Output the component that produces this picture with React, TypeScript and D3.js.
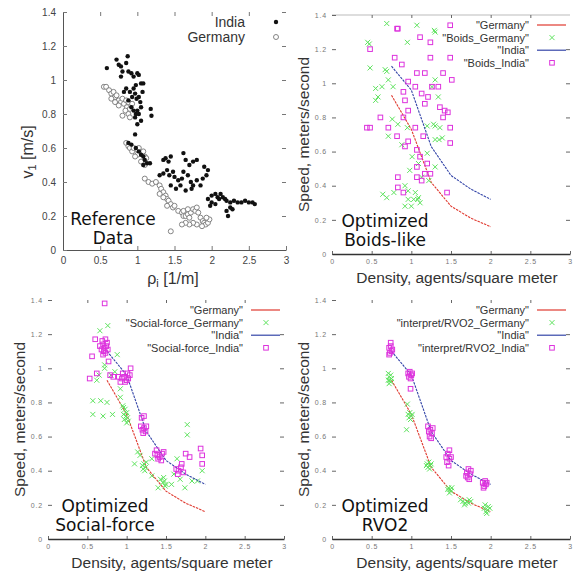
import React, { useRef, useEffect } from 'react'
import * as d3 from 'd3'

type Pt = [number, number]

const xTicks = [0, 0.5, 1, 1.5, 2, 2.5, 3]
const yTicks = [0, 0.2, 0.4, 0.6, 0.8, 1, 1.2, 1.4]

// reference measurements (density, speed)
const refIndia: Pt[] = [
  [0.59, 1.07], [0.72, 1.12], [0.75, 1.09], [0.78, 1.08], [0.8, 1.05], [0.78, 1.02], [0.87, 1.14], [0.85, 1.1],
  [0.88, 1.05], [0.92, 1.04], [0.95, 1.02], [1.0, 1.04], [1.02, 1.03], [1.05, 0.98], [1.08, 0.98], [1.07, 0.93],
  [0.98, 0.97], [0.95, 0.95], [0.9, 0.93], [0.93, 0.9], [0.97, 0.92], [0.99, 0.89], [1.02, 0.9], [1.04, 0.87],
  [0.82, 0.93], [0.85, 0.95], [0.88, 0.88], [0.92, 0.84], [0.95, 0.82], [0.98, 0.8], [1.0, 0.82], [1.02, 0.8],
  [1.05, 0.84], [0.97, 0.78], [1.18, 0.83], [1.19, 0.79], [1.05, 0.76], [1.0, 0.74], [0.97, 0.68],
  [0.88, 0.63], [0.92, 0.62], [0.98, 0.6], [1.02, 0.58], [1.05, 0.56], [1.08, 0.55], [1.1, 0.53], [1.13, 0.51],
  [1.17, 0.51], [1.08, 0.5],
  [1.35, 0.53], [1.38, 0.54], [1.42, 0.52], [1.45, 0.55], [1.4, 0.47], [1.35, 0.45], [1.3, 0.44], [1.43, 0.44],
  [1.48, 0.46], [1.5, 0.43], [1.55, 0.41], [1.6, 0.42], [1.62, 0.57], [1.65, 0.53], [1.7, 0.5], [1.75, 0.52],
  [1.8, 0.53], [1.62, 0.46], [1.68, 0.44], [1.72, 0.4], [1.75, 0.38], [1.8, 0.41], [1.85, 0.38], [1.58, 0.38],
  [1.65, 0.35], [1.73, 0.36], [1.9, 0.49], [1.93, 0.44], [1.95, 0.47], [1.88, 0.42], [1.52, 0.36], [1.45, 0.38],
  [1.95, 0.3], [2.0, 0.32], [2.05, 0.33], [2.08, 0.31], [2.1, 0.3], [2.12, 0.33], [2.15, 0.31], [2.18, 0.3],
  [2.2, 0.29], [2.25, 0.28], [2.3, 0.29], [2.35, 0.28], [2.4, 0.28], [2.45, 0.29], [2.5, 0.28], [2.55, 0.28],
  [2.58, 0.27], [2.0, 0.28], [1.98, 0.26], [2.2, 0.23], [2.22, 0.2], [2.25, 0.25], [2.28, 0.24], [2.05, 0.27],
]
const refGermany: Pt[] = [
  [0.55, 0.96], [0.58, 0.96], [0.62, 0.94], [0.65, 0.92], [0.68, 0.93], [0.7, 0.9], [0.72, 0.91], [0.75, 0.88],
  [0.78, 0.87], [0.8, 0.89], [0.82, 0.86], [0.85, 0.88], [0.88, 0.87], [0.86, 0.84], [0.84, 0.82], [0.88, 0.8],
  [0.9, 0.83], [0.75, 0.85], [0.7, 0.87], [0.8, 0.79], [0.9, 0.78], [0.65, 0.89], [0.93, 0.86],
  [0.85, 0.63], [0.88, 0.61], [0.9, 0.6], [0.93, 0.58], [0.95, 0.6], [1.0, 0.59], [1.02, 0.6], [1.05, 0.57],
  [1.08, 0.58], [1.1, 0.55], [1.12, 0.54], [1.0, 0.56], [0.97, 0.55], [1.05, 0.52], [1.1, 0.5],
  [1.1, 0.42], [1.15, 0.4], [1.2, 0.39], [1.25, 0.4], [1.3, 0.38], [1.32, 0.36], [1.35, 0.34], [1.38, 0.32],
  [1.4, 0.3], [1.42, 0.29], [1.35, 0.31], [1.3, 0.33], [1.45, 0.27], [1.4, 0.26], [1.48, 0.25], [1.5, 0.26],
  [1.45, 0.11],
  [1.55, 0.23], [1.6, 0.22], [1.62, 0.2], [1.65, 0.2], [1.68, 0.21], [1.7, 0.19], [1.72, 0.22], [1.75, 0.24],
  [1.78, 0.23], [1.8, 0.25], [1.82, 0.22], [1.85, 0.19], [1.88, 0.17], [1.9, 0.16], [1.92, 0.15], [1.95, 0.16],
  [1.97, 0.18], [1.93, 0.19], [1.87, 0.14], [1.8, 0.15], [1.75, 0.16], [1.7, 0.15], [1.65, 0.16], [1.6, 0.15],
  [1.62, 0.23], [1.68, 0.24],
]

// fitted curves drawn in the three model panels
const modelDensity = [0.75, 1.0, 1.25, 1.5, 1.75, 2.0]
const modelGermany = [0.93, 0.73, 0.42, 0.28, 0.21, 0.16]
const modelIndia = [1.1, 0.96, 0.63, 0.46, 0.38, 0.32]

const boidsGermany: Pt[] = [
  [0.69, 1.35], [0.95, 1.24], [1.07, 1.34], [1.3, 1.3], [0.45, 1.24], [0.48, 1.09], [0.69, 1.07], [0.71, 1.02],
  [0.63, 0.98], [0.58, 0.92], [0.77, 0.98], [1.26, 0.98], [1.3, 1.02], [1.34, 0.92], [0.76, 0.79], [0.83, 0.76],
  [0.95, 0.74], [1.3, 0.75], [1.36, 0.74], [1.28, 0.76], [1.39, 0.68], [0.71, 0.69], [0.88, 0.64], [1.01, 0.57],
  [1.09, 0.53], [1.2, 0.59], [1.3, 0.51], [0.98, 0.49], [1.13, 0.45], [1.22, 0.43], [0.92, 0.4], [0.96, 0.37],
  [1.05, 0.36], [1.09, 0.33], [0.96, 0.32], [0.78, 0.36], [0.64, 0.35], [1.11, 0.3], [0.92, 0.28], [1.3, 0.67],
  [0.47, 1.23], [0.55, 0.97], [0.55, 0.9], [0.67, 1.08], [1.0, 0.28], [1.03, 0.32], [1.08, 0.32], [0.69, 0.33],
  [1.35, 0.67], [1.2, 0.75], [1.29, 1.31],
]
const boidsIndia: Pt[] = [
  [0.83, 1.32], [1.11, 1.27], [1.24, 1.24], [1.49, 1.34], [1.49, 1.15], [1.24, 1.15], [0.79, 1.15], [0.48, 1.2],
  [0.88, 1.11], [1.07, 1.06], [1.17, 1.06], [1.4, 1.06], [1.51, 1.02], [0.96, 1.01], [1.05, 0.98], [1.26, 0.98],
  [1.34, 0.98], [0.9, 0.95], [1.13, 0.94], [1.21, 0.92], [0.92, 0.9], [1.17, 0.88], [1.36, 0.86], [1.42, 0.84],
  [1.46, 0.83], [1.4, 0.8], [0.96, 0.84], [0.9, 0.8], [0.61, 0.8], [0.48, 0.74], [0.71, 0.74], [0.82, 0.69],
  [1.05, 0.74], [1.15, 0.69], [1.49, 0.74], [1.49, 0.65], [0.96, 0.66], [0.92, 0.63], [1.07, 0.61], [1.11, 0.57],
  [1.2, 0.53], [1.07, 0.51], [1.17, 0.47], [1.24, 0.47], [1.07, 0.45], [0.83, 0.45], [1.13, 0.43], [0.83, 0.39],
  [0.9, 0.36], [0.44, 0.74], [0.82, 1.32], [1.45, 0.36],
]

const sfGermany: Pt[] = [
  [0.76, 1.25], [0.66, 1.22], [0.88, 1.08], [0.72, 1.0], [0.62, 0.93], [0.57, 0.81], [0.67, 0.81], [0.75, 0.8],
  [0.57, 0.73], [0.7, 0.72], [0.82, 0.73], [0.92, 0.83], [0.96, 0.77], [0.92, 0.88], [0.85, 0.98], [0.8, 0.96],
  [0.65, 0.96], [0.72, 1.02],
  [0.97, 0.7], [0.99, 0.72], [1.01, 0.71], [1.0, 0.74], [0.98, 0.76], [1.02, 0.69], [0.96, 0.73], [1.0, 0.68], [0.95, 0.78],
  [1.2, 0.43], [1.22, 0.44], [1.24, 0.42], [1.23, 0.4], [1.21, 0.41], [1.25, 0.45], [1.14, 0.51], [1.17, 0.49],
  [1.1, 0.44], [1.32, 0.47],
  [1.43, 0.35], [1.46, 0.33], [1.48, 0.34], [1.5, 0.32], [1.47, 0.36], [1.49, 0.31], [1.4, 0.3], [1.32, 0.37], [1.57, 0.32],
  [1.77, 0.61], [1.77, 0.67], [1.64, 0.47], [1.68, 0.35], [1.74, 0.3], [1.83, 0.34], [1.9, 0.34], [1.96, 0.4], [1.6, 0.38],
]
const sfIndia: Pt[] = [
  [0.66, 1.13], [0.68, 1.11], [0.7, 1.14], [0.72, 1.12], [0.74, 1.13], [0.71, 1.1], [0.73, 1.09], [0.75, 1.15],
  [0.69, 1.16], [0.76, 1.11], [0.7, 1.08], [0.73, 1.17],
  [0.72, 1.38], [0.6, 1.17], [0.56, 1.07], [0.62, 0.97], [0.79, 0.96], [0.53, 0.94], [0.77, 1.04], [0.83, 0.95],
  [0.9, 0.95], [0.94, 0.94], [0.97, 0.95], [1.0, 0.93], [1.02, 0.94], [1.04, 0.96], [0.98, 0.92], [1.01, 0.97],
  [0.95, 0.97], [1.05, 1.0], [0.92, 0.92],
  [1.18, 0.66], [1.2, 0.64], [1.22, 0.65], [1.24, 0.63], [1.19, 0.71], [1.22, 0.72], [1.25, 0.66], [1.21, 0.62],
  [1.36, 0.5], [1.39, 0.49], [1.42, 0.48], [1.45, 0.5], [1.4, 0.47], [1.44, 0.46], [1.47, 0.51], [1.38, 0.52],
  [1.63, 0.41], [1.66, 0.4], [1.69, 0.42], [1.72, 0.39], [1.65, 0.38], [1.7, 0.44], [1.8, 0.48], [1.96, 0.49],
  [1.96, 0.44], [1.94, 0.53], [1.75, 0.5],
]

const rvoGermany: Pt[] = [
  [0.71, 0.97], [0.72, 0.95], [0.74, 0.96], [0.73, 0.93], [0.72, 0.91], [0.75, 0.94], [0.74, 0.92], [0.71, 0.93],
  [0.96, 0.73], [0.98, 0.74], [1.0, 0.72], [0.99, 0.7], [0.97, 0.71], [1.01, 0.73], [0.95, 0.79], [0.94, 0.64],
  [1.2, 0.44], [1.22, 0.45], [1.24, 0.43], [1.21, 0.42], [1.23, 0.41], [1.25, 0.44], [1.19, 0.43],
  [1.47, 0.3], [1.49, 0.29], [1.5, 0.28], [1.48, 0.27], [1.46, 0.29], [1.51, 0.3],
  [1.62, 0.23], [1.65, 0.22], [1.68, 0.21], [1.7, 0.22], [1.72, 0.21], [1.75, 0.22], [1.67, 0.2], [1.73, 0.23],
  [1.92, 0.18], [1.94, 0.16], [1.96, 0.17], [1.97, 0.19], [1.95, 0.15], [1.99, 0.18], [1.93, 0.2],
]
const rvoIndia: Pt[] = [
  [0.72, 1.12], [0.74, 1.13], [0.75, 1.1], [0.73, 1.09], [0.76, 1.11], [0.72, 1.08], [0.74, 1.15],
  [0.96, 0.97], [0.98, 0.98], [1.0, 0.96], [0.97, 0.95], [0.99, 0.94], [1.01, 0.97], [0.99, 0.88],
  [1.22, 0.63], [1.24, 0.64], [1.26, 0.62], [1.23, 0.6], [1.25, 0.59], [1.27, 0.65], [1.21, 0.66],
  [1.44, 0.48], [1.46, 0.5], [1.48, 0.47], [1.45, 0.45], [1.47, 0.43], [1.5, 0.48], [1.48, 0.52],
  [1.7, 0.39], [1.72, 0.41], [1.74, 0.38], [1.71, 0.36], [1.73, 0.35], [1.69, 0.37], [1.75, 0.4],
  [1.9, 0.33], [1.92, 0.31], [1.94, 0.32], [1.91, 0.3], [1.93, 0.34], [1.95, 0.33],
]

const boidsLegend = ['"Germany"', '"Boids_Germany"', '"India"', '"Boids_India"']
const sfLegend = ['"Germany"', '"Social-force_Germany"', '"India"', '"Social-force_India"']
const rvoLegend = ['"Germany"', '"interpret/RVO2_Germany"', '"India"', '"interpret/RVO2_India"']

const SANS = 'Liberation Sans, Arial, sans-serif'
const DEJAVU = 'DejaVu Sans, sans-serif'
const RED = '#e03a30'
const BLUE = '#3445a8'
const GREEN = '#5ee35e'
const MAGENTA = '#dd33dd'

const App = () => {
  const ref = useRef<SVGSVGElement>(null)
  useEffect(() => {
    const svg = d3.select(ref.current)
    svg.selectAll('*').remove()
    svg.append('rect').attr('width', 574).attr('height', 572).attr('fill', 'white')

    const scales = (x0: number, x1: number, y0: number, y1: number) => ({
      x: d3.scaleLinear().domain([0, 3]).range([x0, x1]),
      y: d3.scaleLinear().domain([0, 1.4]).range([y1, y0]),
    })

    const bigLabel = (lines: string[], cx: number, y: number) => {
      lines.forEach((t, i) => {
        svg.append('text').attr('x', cx).attr('y', y + i * 18.5)
          .attr('text-anchor', 'middle').attr('font-family', DEJAVU)
          .attr('font-size', 17).attr('fill', '#111').text(t)
      })
    }

    // ---------- panel 1: reference data ----------
    {
      const { x, y } = scales(63, 286, 12, 250)
      const g = svg.append('g')
      const fmt = d3.format('')
      const xa = g.append('g').attr('transform', `translate(0,${y(0)})`)
        .call(d3.axisBottom(x).tickValues(xTicks).tickSize(-4).tickSizeOuter(0).tickPadding(7).tickFormat(d => fmt(d as number)))
      const ya = g.append('g').attr('transform', `translate(${x(0)},0)`)
        .call(d3.axisLeft(y).tickValues(yTicks).tickSize(-4).tickSizeOuter(0).tickPadding(7).tickFormat(d => fmt(d as number)))
      g.append('g').attr('transform', `translate(${x(3)},0)`)
        .call(d3.axisRight(y).tickValues(yTicks.slice(1)).tickSize(-4).tickSizeOuter(0).tickFormat(() => ''))
        .select('.domain').remove()
      g.append('g').attr('transform', `translate(0,${y(1.4)})`)
        .call(d3.axisTop(x).tickValues(xTicks.slice(1, -1)).tickSize(-4).tickSizeOuter(0).tickFormat(() => ''))
        .select('.domain').remove()
      ;[xa, ya].forEach(a => {
        a.attr('font-family', SANS).attr('font-size', 10)
        a.selectAll('text').attr('fill', '#444')
        a.select('.domain').attr('stroke', '#555')
      })
      g.selectAll('.tick line').attr('stroke', '#777')

      g.selectAll('.gm').data(refGermany).join('circle')
        .attr('cx', d => x(d[0])).attr('cy', d => y(d[1])).attr('r', 2.5)
        .attr('fill', 'white').attr('stroke', '#777').attr('stroke-width', 0.9)
      g.selectAll('.in').data(refIndia).join('circle')
        .attr('cx', d => x(d[0])).attr('cy', d => y(d[1])).attr('r', 2.2).attr('fill', '#111')

      // legend
      g.append('text').attr('x', 245).attr('y', 27).attr('text-anchor', 'end')
        .attr('font-family', SANS).attr('font-size', 14).attr('fill', '#333').text('India')
      g.append('circle').attr('cx', 276).attr('cy', 22).attr('r', 2.2).attr('fill', '#111')
      g.append('text').attr('x', 245).attr('y', 42).attr('text-anchor', 'end')
        .attr('font-family', SANS).attr('font-size', 14).attr('fill', '#333').text('Germany')
      g.append('circle').attr('cx', 276).attr('cy', 37).attr('r', 2.5)
        .attr('fill', 'white').attr('stroke', '#777').attr('stroke-width', 0.9)

      // axis titles
      const yt = g.append('text').attr('transform', 'translate(33,152) rotate(-90)')
        .attr('text-anchor', 'middle').attr('font-family', SANS).attr('font-size', 16).attr('fill', '#333')
      yt.append('tspan').text('v')
      yt.append('tspan').attr('font-size', 11).attr('dy', 3).text('1')
      yt.append('tspan').attr('dy', -3).text(' [m/s]')
      const xt = g.append('text').attr('x', 173).attr('y', 284)
        .attr('text-anchor', 'middle').attr('font-family', SANS).attr('font-size', 16).attr('fill', '#333')
      xt.append('tspan').text('ρ')
      xt.append('tspan').attr('font-size', 11).attr('dy', 3).text('i')
      xt.append('tspan').attr('dy', -3).text(' [1/m]')

      bigLabel(['Reference', 'Data'], 113, 225)
    }

    // ---------- gnuplot-style model panels ----------
    const modelPanel = (
      box: [number, number, number, number], names: string[], germ: Pt[], ind: Pt[],
      topLine: boolean, title: string[], titleX: number,
    ) => {
      const [x0, x1, y0, y1] = box
      const { x, y } = scales(x0, x1, y0, y1)
      const g = svg.append('g')
      const fmt = d3.format('')

      if (topLine) {
        g.append('line').attr('x1', x0).attr('x2', x1).attr('y1', y0).attr('y2', y0)
          .attr('stroke', '#bbb').attr('stroke-width', 1)
      }
      const ya = g.append('g').attr('transform', `translate(${x0},0)`)
        .call(d3.axisLeft(y).tickValues(yTicks).tickSize(-4).tickSizeOuter(0).tickPadding(5).tickFormat(d => fmt(d as number)))
      ya.select('.domain').remove()
      const xa = g.append('g').attr('transform', `translate(0,${y1})`)
        .call(d3.axisBottom(x).tickValues(xTicks).tickSize(-3).tickSizeOuter(0).tickPadding(5).tickFormat(d => fmt(d as number)))
      xa.select('.domain').attr('stroke', '#333').attr('stroke-width', 1.4)
      ;[xa, ya].forEach(a => {
        a.attr('font-family', SANS).attr('font-size', 7)
        a.selectAll('text').attr('fill', '#777').attr('letter-spacing', 0.8)
      })
      g.append('g').attr('transform', `translate(${x1},0)`)
        .call(d3.axisRight(y).tickValues(yTicks.slice(1, -1)).tickSize(-4).tickSizeOuter(0).tickFormat(() => ''))
        .select('.domain').remove()
      g.append('g').attr('transform', `translate(0,${y0})`)
        .call(d3.axisTop(x).tickValues(xTicks.slice(1, -1)).tickSize(-3).tickSizeOuter(0).tickFormat(() => ''))
        .select('.domain').remove()
      g.selectAll('.tick line').attr('stroke', '#666')

      const line = d3.line<number>().x((d, i) => x(modelDensity[i])).y(d => y(d))
      const xPath = 'M-2.5,-2.5L2.5,2.5M-2.5,2.5L2.5,-2.5'

      g.append('path').attr('d', line(modelGermany)).attr('fill', 'none')
        .attr('stroke', RED).attr('stroke-width', 1.1).attr('stroke-dasharray', '2.5,1')
      g.selectAll('.gx').data(germ).join('path')
        .attr('transform', d => `translate(${x(d[0])},${y(d[1])})`).attr('d', xPath)
        .attr('stroke', GREEN).attr('stroke-width', 1).attr('fill', 'none')
      g.append('path').attr('d', line(modelIndia)).attr('fill', 'none')
        .attr('stroke', BLUE).attr('stroke-width', 1.1).attr('stroke-dasharray', '2.5,1')
      g.selectAll('.is').data(ind).join('rect')
        .attr('x', d => x(d[0]) - 2.3).attr('y', d => y(d[1]) - 2.3).attr('width', 4.6).attr('height', 4.6)
        .attr('stroke', MAGENTA).attr('stroke-width', 1).attr('fill', 'none')

      // legend
      names.forEach((n, i) => {
        const ly = y0 + 10 + i * 12.6
        g.append('text').attr('x', x1 - 41).attr('y', ly + 4).attr('text-anchor', 'end')
          .attr('font-family', SANS).attr('font-size', 11).attr('fill', '#333').text(n)
        const mx = x1 - 18
        if (i === 0 || i === 2) {
          g.append('line').attr('x1', x1 - 33).attr('x2', x1 - 4).attr('y1', ly).attr('y2', ly)
            .attr('stroke', i === 0 ? RED : BLUE).attr('stroke-width', 1.2)
        } else if (i === 1) {
          g.append('path').attr('transform', `translate(${mx},${ly})`).attr('d', xPath)
            .attr('stroke', GREEN).attr('stroke-width', 1).attr('fill', 'none')
        } else {
          g.append('rect').attr('x', mx - 2.3).attr('y', ly - 2.3).attr('width', 4.6).attr('height', 4.6)
            .attr('stroke', MAGENTA).attr('stroke-width', 1).attr('fill', 'none')
        }
      })

      // axis titles
      g.append('text').attr('transform', `translate(${x0 - 23},${(y0 + y1) / 2}) rotate(-90)`)
        .attr('text-anchor', 'middle').attr('font-family', SANS).attr('font-size', 15.5).attr('fill', '#333')
        .text('Speed, meters/second')
      g.append('text').attr('x', (x0 + x1) / 2 + 6).attr('y', y1 + 29)
        .attr('text-anchor', 'middle').attr('font-family', SANS).attr('font-size', 15.5).attr('fill', '#333')
        .text('Density, agents/square meter')

      bigLabel(title, titleX, y1 - 27)
    }

    modelPanel([332, 570, 15, 254], boidsLegend, boidsGermany, boidsIndia, true, ['Optimized', 'Boids-like'], 385)
    modelPanel([48, 284, 300, 539], sfLegend, sfGermany, sfIndia, false, ['Optimized', 'Social-force'], 105)
    modelPanel([332, 570, 300, 539], rvoLegend, rvoGermany, rvoIndia, false, ['Optimized', 'RVO2'], 385)
  }, [])

  return (
    <div style={{ position: 'absolute', left: 0, top: 0 }}>
      <svg ref={ref} width={574} height={572} style={{ display: 'block' }}></svg>
    </div>
  )
}

export default App
